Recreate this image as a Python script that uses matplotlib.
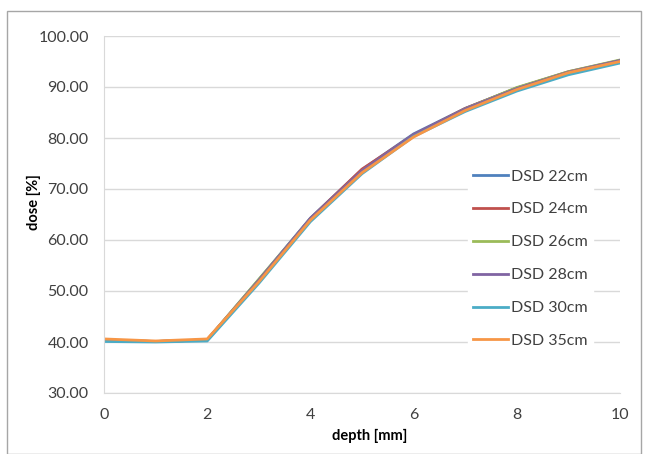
import numpy as np
import matplotlib
matplotlib.use("Agg")
import matplotlib.pyplot as plt
from matplotlib.patches import Rectangle

plt.rcParams['font.family'] = ['Lato', 'DejaVu Sans']

# depth [mm] and dose [%] for each source-detector distance
depth = [0, 1, 2, 3, 4, 5, 6, 7, 8, 9, 10]
dsd22 = [40.3, 40.1, 40.4, 52.2, 64.3, 73.8, 80.8, 85.8, 89.8, 92.9, 95.1]
dsd24 = [40.3, 40.1, 40.4, 52.0, 64.2, 73.9, 80.6, 85.8, 89.8, 93.0, 95.2]
dsd26 = [40.3, 40.1, 40.4, 52.3, 64.1, 73.5, 80.6, 85.7, 89.9, 93.0, 95.3]
dsd28 = [40.3, 40.1, 40.4, 52.1, 64.2, 73.6, 80.7, 85.7, 89.7, 92.9, 95.2]
dsd30 = [40.1, 40.0, 40.2, 51.5, 63.6, 73.0, 80.3, 85.2, 89.2, 92.4, 94.7]
dsd35 = [40.6, 40.2, 40.6, 51.8, 63.9, 73.2, 80.2, 85.4, 89.5, 92.8, 95.0]

labels = ["DSD 22cm", "DSD 24cm", "DSD 26cm", "DSD 28cm", "DSD 30cm", "DSD 35cm"]
colors = ["#4F81BD", "#C0504D", "#9BBB59", "#8064A2", "#4BACC6", "#F79646"]
series = [dsd22, dsd24, dsd26, dsd28, dsd30, dsd35]

fig = plt.figure(figsize=(6.49, 4.54), dpi=100)
# outer chart border
fig.patches.append(Rectangle((7 / 649, 0.0), 634 / 649, 1 - 11 / 454,
                             transform=fig.transFigure, fill=False,
                             edgecolor="#A6A6A6", linewidth=1.0))

ax = fig.add_axes([104 / 649, 1 - 393 / 454, 516 / 649, 357 / 454])
for ys, lab, c in zip(series, labels, colors):
    ax.plot(depth, ys, color=c, linewidth=2.0, label=lab)

ax.set_xlim(0, 10)
ax.set_ylim(30, 100)
ax.set_xticks([0, 2, 4, 6, 8, 10])
ax.set_yticks(np.arange(30, 101, 10))
ax.yaxis.set_major_formatter(matplotlib.ticker.FormatStrFormatter("%.2f"))
ax.grid(axis="y", color="#D9D9D9", linewidth=1.0)
ax.set_axisbelow(True)
for s in ["top", "right"]:
    ax.spines[s].set_visible(False)
for s in ["left", "bottom"]:
    ax.spines[s].set_color("#D9D9D9")
ax.tick_params(axis="y", length=0, labelsize=11.5, colors="#404040", pad=11)
ax.tick_params(axis="x", length=0, labelsize=11.5, colors="#404040", pad=11)
ax.set_xlabel("depth [mm]", fontsize=10.5, fontweight="bold")
ax.set_ylabel("dose [%]", fontsize=10.5, fontweight="bold")
ax.xaxis.set_label_coords(0.515, -0.10)
ax.yaxis.set_label_coords(-0.122, 0.535)

leg = ax.legend(loc="upper left", bbox_to_anchor=(0.69, 0.662), frameon=True,
                fontsize=11.5, handlelength=2.2, handletextpad=0.2,
                labelspacing=1.17, borderpad=0.3)
leg.get_frame().set_edgecolor("white")
leg.get_frame().set_facecolor("white")
leg.get_frame().set_alpha(1.0)
for t in leg.get_texts():
    t.set_color("#404040")

fig.savefig("out.png", dpi=100)
